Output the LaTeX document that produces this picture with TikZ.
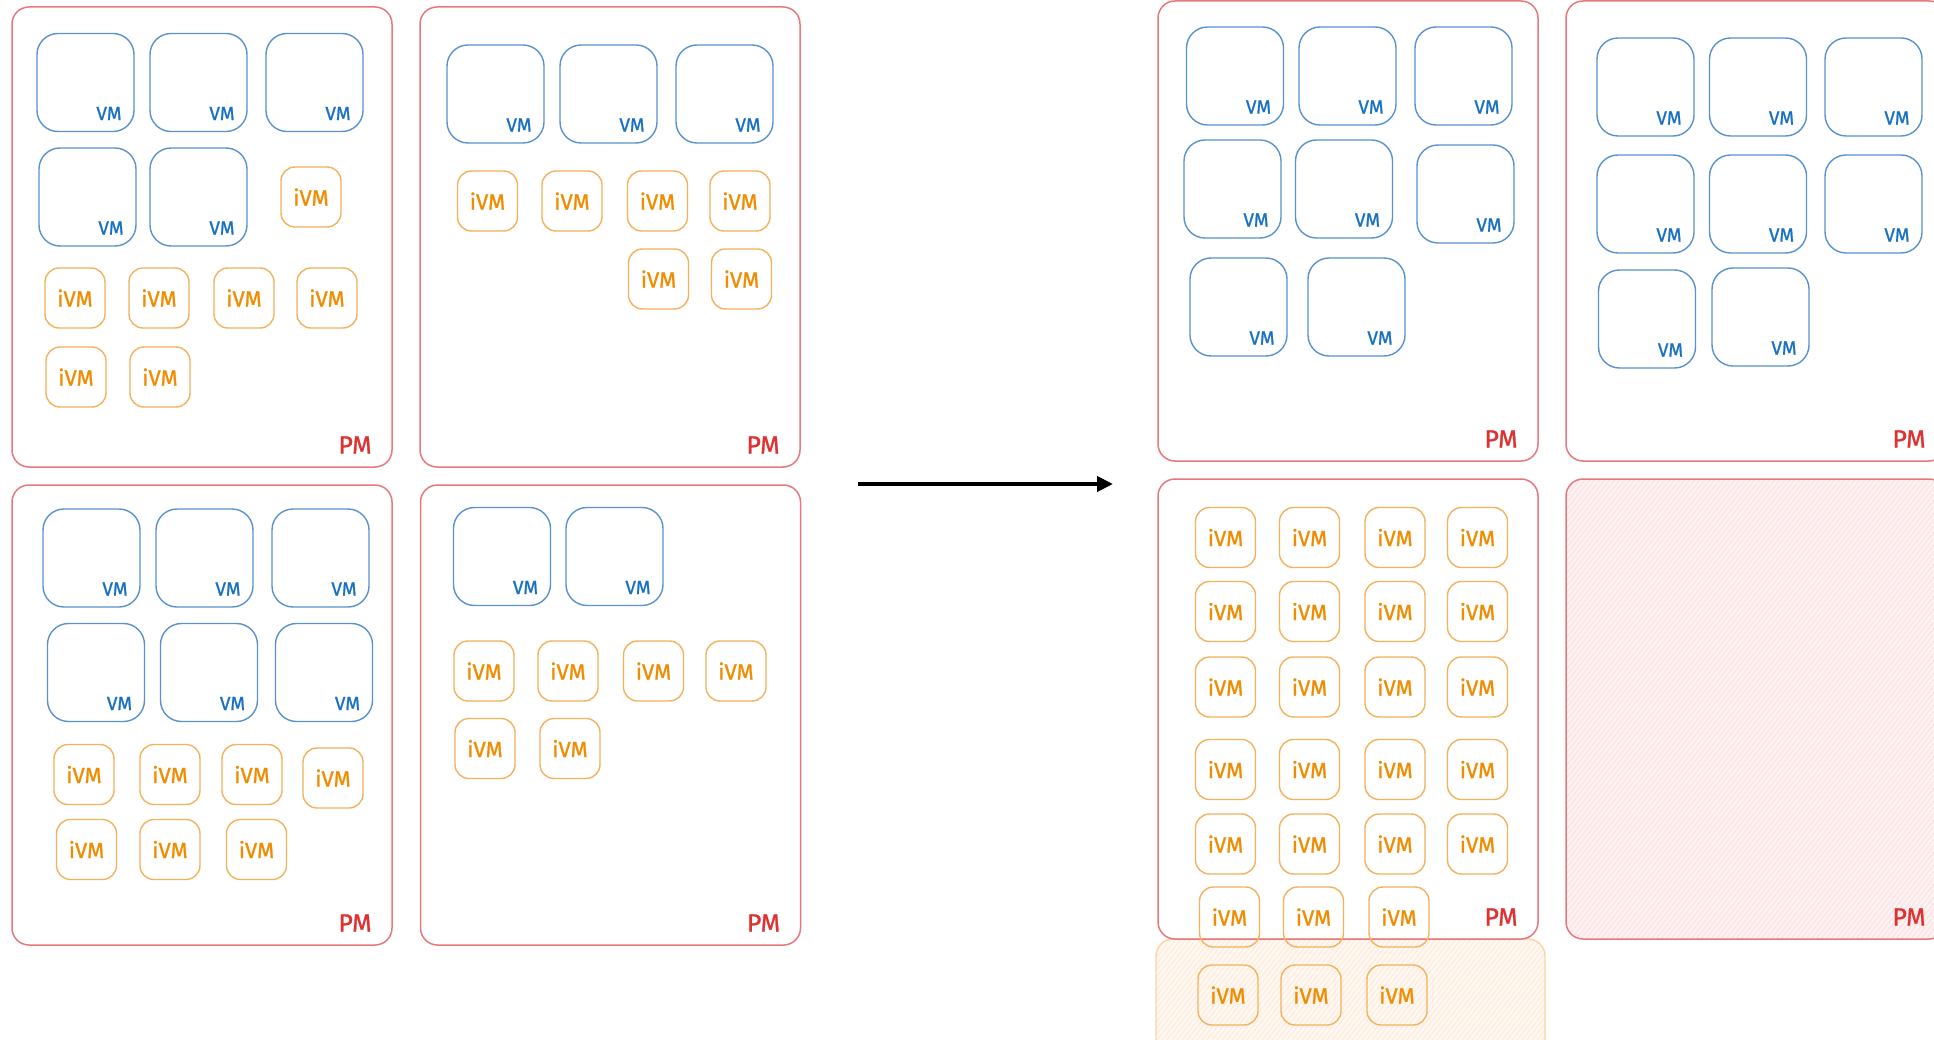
\documentclass[tikz,border=0pt]{standalone}
\usepackage{fontspec}
\newfontfamily\handfont[FakeBold=1]{Fira Sans}
\usetikzlibrary{arrows.meta,calc}

\definecolor{pmline}{RGB}{232,120,125}
\definecolor{pmtext}{RGB}{224,49,49}
\definecolor{vmline}{RGB}{88,146,208}
\definecolor{vmtext}{RGB}{25,113,194}
\definecolor{ivmline}{RGB}{244,178,92}
\definecolor{ivmtext}{RGB}{240,140,0}
\definecolor{freefill}{RGB}{254,241,241}
\definecolor{freehatch}{RGB}{249,220,220}
\definecolor{spillfill}{RGB}{255,247,240}
\definecolor{spillhatch}{RGB}{252,231,212}
\definecolor{spillline}{RGB}{250,212,164}

% physical machine with its label in the lower right corner
\newcommand\pmat[3]{%
  \node[pmbox] (#1) at (#2,#3) {};
  \node[pmlabel] (#1-lbl) at ($(#1.south east)+(-37,-22)$) {PM};}
% virtual machine
\newcommand\vmat[3]{%
  \node[vmbox] (#1) at (#2,#3) {};
  \node[vmlabel] (#1-lbl) at ($(#1.south east)+(-25,-18)$) {VM};}
% small instance VM
\newcommand\ivmat[3]{\node[ivmbox] (#1) at (#2,#3) {iVM};}

\begin{document}
\begin{tikzpicture}[x=1pt,y=-1pt,
  pmbox/.style={draw=pmline, line width=1.5pt, rounded corners=17pt,
    minimum width=380pt, minimum height=460pt, inner sep=0pt, outer sep=0pt},
  vmbox/.style={draw=vmline, line width=1.4pt, rounded corners=21pt,
    minimum width=97pt, minimum height=98pt, inner sep=0pt, outer sep=0pt},
  ivmbox/.style={draw=ivmline, line width=1.4pt, rounded corners=14pt,
    minimum width=60pt, minimum height=60pt, inner sep=0pt, outer sep=0pt,
    text=ivmtext, font=\handfont\fontsize{22}{22}\selectfont},
  vmlabel/.style={text=vmtext, font=\handfont\fontsize{19}{19}\selectfont, inner sep=0pt},
  pmlabel/.style={text=pmtext, font=\handfont\fontsize{25}{25}\selectfont, inner sep=0pt},
  hatched/.style n args={2}{fill=#1, path picture={
    \foreach \k in {-400,-395,...,400}
      \draw[#2, line width=0.6pt]
        ([xshift=\k pt]path picture bounding box.south west) -- ++(-52:800);}},
]
\useasboundingbox (0,0) rectangle (1934,1040);
\fill[white] (0,0) rectangle (1934,1040);
\clip (0,0) rectangle (1934,1040);

% ---------------- before: four partly used machines ----------------
\pmat{pa}{202}{237}
\vmat{pa-v1}{85.5}{82.5}
\vmat{pa-v2}{198.5}{82.5}
\vmat{pa-v3}{314.5}{82.5}
\vmat{pa-v4}{87.5}{197}
\vmat{pa-v5}{198.5}{197}
\ivmat{pa-i1}{311}{197}
\ivmat{pa-i2}{75}{298}
\ivmat{pa-i3}{159}{298}
\ivmat{pa-i4}{244}{298}
\ivmat{pa-i5}{327}{298}
\ivmat{pa-i6}{76}{377}
\ivmat{pa-i7}{160}{377}

\pmat{pb}{610}{237}
\vmat{pb-v1}{495.5}{94}
\vmat{pb-v2}{608.5}{94}
\vmat{pb-v3}{724.5}{94}
\ivmat{pb-i1}{487.5}{201}
\ivmat{pb-i2}{572}{201}
\ivmat{pb-i3}{657.5}{201}
\ivmat{pb-i4}{740}{201}
\ivmat{pb-i5}{658.5}{279}
\ivmat{pb-i6}{741.5}{279}

\pmat{pc}{202}{715}
\vmat{pc-v1}{91.5}{558}
\vmat{pc-v2}{204.5}{558}
\vmat{pc-v3}{320.5}{558}
\vmat{pc-v4}{96}{672.5}
\vmat{pc-v5}{209}{672.5}
\vmat{pc-v6}{324}{672.5}
\ivmat{pc-i1}{84}{774.5}
\ivmat{pc-i2}{170}{774.5}
\ivmat{pc-i3}{252}{774.5}
\ivmat{pc-i4}{333}{778}
\ivmat{pc-i5}{86.5}{849.5}
\ivmat{pc-i6}{170}{849.5}
\ivmat{pc-i7}{256.5}{849.5}

\pmat{pd}{610.5}{715}
\vmat{pd-v1}{502}{556.5}
\vmat{pd-v2}{614.5}{556.5}
\ivmat{pd-i1}{484}{671}
\ivmat{pd-i2}{568}{671}
\ivmat{pd-i3}{653.5}{671}
\ivmat{pd-i4}{736}{671}
\ivmat{pd-i5}{485}{748.5}
\ivmat{pd-i6}{570}{748.5}

% ---------------- consolidation arrow ----------------
\coordinate (arrowstart) at (858,484);
\coordinate (arrowend) at (1113,484);
\draw[line width=4pt, -{Triangle[length=16pt,width=15pt]}] (arrowstart) -- (arrowend);

% ---------------- after: VMs packed, iVMs gathered ----------------
\pmat{pe}{1348}{231}
\vmat{pe-v1}{1235}{76}
\vmat{pe-v2}{1347.5}{76}
\vmat{pe-v3}{1463.5}{76}
\vmat{pe-v4}{1232.5}{189}
\vmat{pe-v5}{1344}{189}
\vmat{pe-v6}{1465.5}{194}
\vmat{pe-v7}{1238.5}{307}
\vmat{pe-v8}{1356.5}{307}

\pmat{pf}{1756}{231}
\vmat{pf-v1}{1645.5}{87}
\vmat{pf-v2}{1758}{87}
\vmat{pf-v3}{1873.5}{87}
\vmat{pf-v4}{1645.5}{204}
\vmat{pf-v5}{1758}{204}
\vmat{pf-v6}{1873.5}{204}
\vmat{pf-v7}{1647}{319}
\vmat{pf-v8}{1760.5}{317}

% overflow area below the iVM machine
\node[pmbox, draw=spillline, line width=1.4pt, minimum width=389pt, minimum height=160pt,
  hatched={spillfill}{spillhatch}] (spill) at (1350.5,1019) {};

\pmat{pg}{1348}{709}
\foreach \r/\y in {1/537.5,2/611.5,3/687,4/769.5,5/844}{
  \foreach \c/\x in {1/1225.5,2/1309.5,3/1395,4/1477.5}{
    \ivmat{pg-i\r\c}{\x}{\y}
  }
}
\ivmat{pg-i61}{1229.5}{917}
\ivmat{pg-i62}{1313.5}{917}
\ivmat{pg-i63}{1399}{917}
\ivmat{spill-i1}{1228}{995}
\ivmat{spill-i2}{1311}{995}
\ivmat{spill-i3}{1397}{995}

% freed machine
\node[pmbox, hatched={freefill}{freehatch}] (ph) at (1756,709) {};
\node[pmlabel] (ph-lbl) at ($(ph.south east)+(-37,-22)$) {PM};
\end{tikzpicture}
\end{document}
